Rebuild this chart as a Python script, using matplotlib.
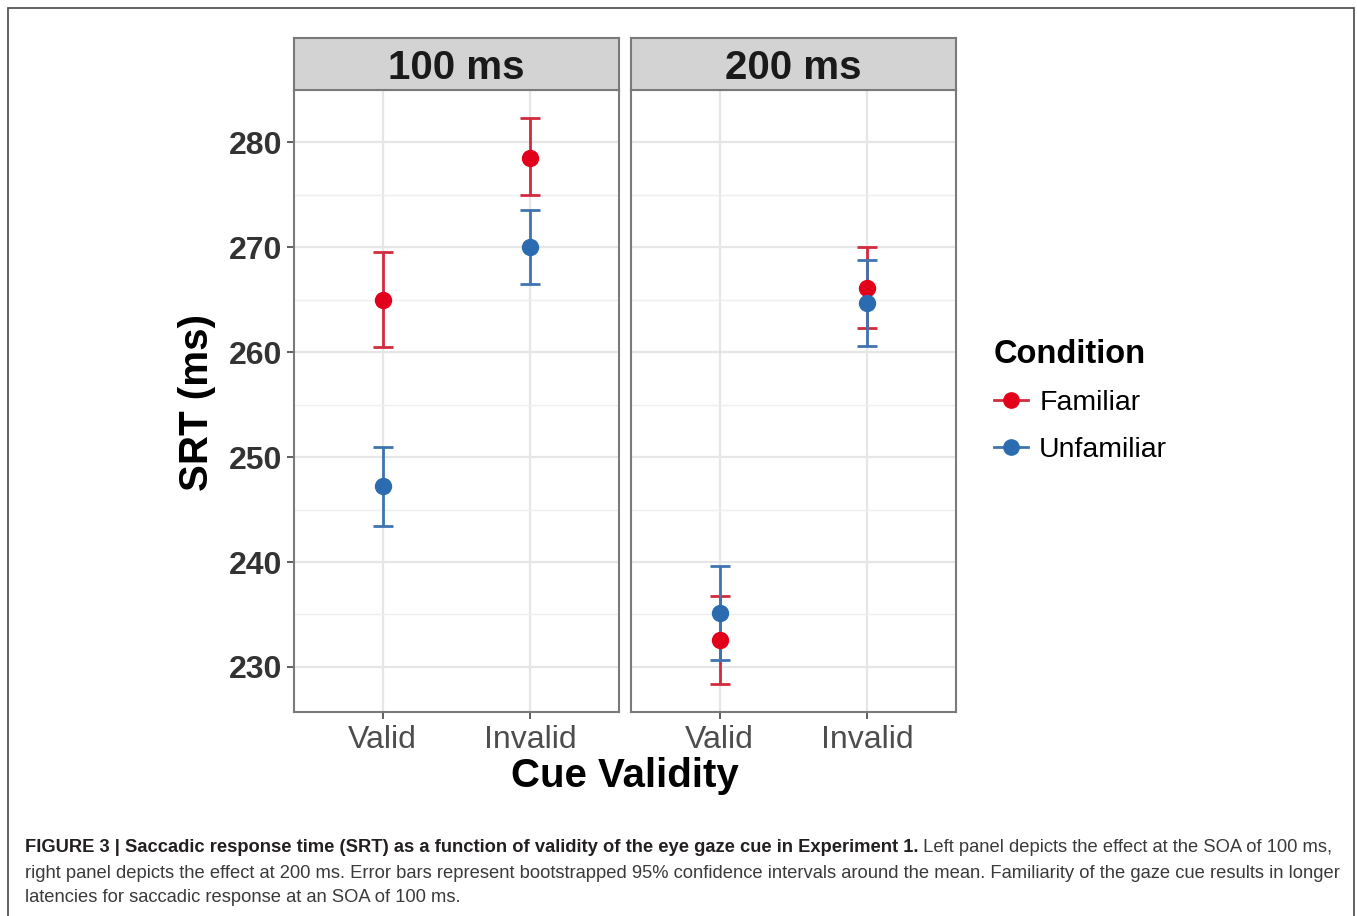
import matplotlib.pyplot as plt
from matplotlib.lines import Line2D
from matplotlib.patches import Rectangle

plt.rcParams['font.family'] = ['Liberation Sans', 'DejaVu Sans']

# data (SRT in ms, bootstrapped 95% CI)
soa_labels = ['100 ms', '200 ms']
cue_labels = ['Valid', 'Invalid']
conditions = ['Familiar', 'Unfamiliar']

familiar_mean = [[265.0, 278.5], [232.6, 266.1]]
familiar_low = [[260.5, 275.0], [228.4, 262.3]]
familiar_high = [[269.6, 282.3], [236.8, 270.0]]

unfamiliar_mean = [[247.2, 270.0], [235.1, 264.7]]
unfamiliar_low = [[243.4, 266.5], [230.7, 260.6]]
unfamiliar_high = [[251.0, 273.6], [239.6, 268.8]]

y_ticks = [230, 240, 250, 260, 270, 280]

point_colors = {'Familiar': '#E3001B', 'Unfamiliar': '#2B6CB0'}
bar_colors = {'Familiar': '#D22A3E', 'Unfamiliar': '#3F74B0'}

series = {
    'Familiar': (familiar_mean, familiar_low, familiar_high),
    'Unfamiliar': (unfamiliar_mean, unfamiliar_low, unfamiliar_high),
}

W, H = 1357, 916
fig = plt.figure(figsize=(W / 100, H / 100), dpi=100)

# outer frame around figure + caption
fig.add_artist(Rectangle((8 / W, -0.02), (1354 - 8) / W, 1 - 8 / H + 0.02,
                         transform=fig.transFigure, fill=False,
                         edgecolor='#555555', lw=1.3))

panel_left = [294, 631]
panel_w = 325
top, bottom = 90, 712
strip_top = 38

for p in range(2):
    ax = fig.add_axes([panel_left[p] / W, 1 - bottom / H, panel_w / W, (bottom - top) / H])
    x = [1, 2]
    for cond in conditions:
        mean, low, high = series[cond]
        m = mean[p]
        err = [[m[i] - low[p][i] for i in range(2)], [high[p][i] - m[i] for i in range(2)]]
        ax.errorbar(x, m, yerr=err, fmt='none', ecolor=bar_colors[cond],
                    elinewidth=2, capsize=7, capthick=2, zorder=3)
    for cond in conditions:
        ax.plot(x, series[cond][0][p], 'o', color=point_colors[cond],
                markersize=11.5, zorder=4)

    ax.set_xlim(0.4, 2.6)
    ax.set_ylim(225.7, 285.0)
    ax.set_xticks(x)
    ax.set_xticklabels(cue_labels, fontsize=23, color='#4D4D4D')
    ax.set_yticks(y_ticks)
    ax.set_yticks([235, 245, 255, 265, 275], minor=True)
    ax.grid(True, which='major', color='#E6E6E6', lw=1.6)
    ax.grid(True, which='minor', axis='y', color='#EFEFEF', lw=1.0)
    ax.set_axisbelow(True)
    ax.tick_params(axis='both', which='major', length=5, width=1.2, color='#444444')
    ax.tick_params(axis='y', which='minor', length=0)
    ax.tick_params(axis='x', pad=4)
    for s in ax.spines.values():
        s.set_color('#7A7A7A')
        s.set_linewidth(1.5)
    if p == 0:
        ax.set_yticklabels([str(t) for t in y_ticks], fontsize=23,
                           fontweight='bold', color='#333333')
    else:
        ax.tick_params(axis='y', labelleft=False, left=False)

    # facet strip
    sx = fig.add_axes([panel_left[p] / W, 1 - top / H, panel_w / W, (top - strip_top) / H])
    sx.set_facecolor('#D3D3D3')
    sx.set_xticks([])
    sx.set_yticks([])
    for s in sx.spines.values():
        s.set_color('#7A7A7A')
        s.set_linewidth(1.5)
    sx.text(0.5, 0.42, soa_labels[p], ha='center', va='center', fontsize=29,
            fontweight='bold', color='#1A1A1A', transform=sx.transAxes)

fig.text(625 / W, 1 - 776 / H, 'Cue Validity', ha='center', va='center',
         fontsize=29, fontweight='bold')
fig.text(197 / W, 1 - 402 / H, 'SRT (ms)', ha='center', va='center',
         rotation=90, fontsize=29, fontweight='bold')

handles = [Line2D([0], [0], color=bar_colors[c], lw=2, marker='o',
                  markerfacecolor=point_colors[c], markeredgecolor=point_colors[c],
                  markersize=11) for c in conditions]
fig.legend(handles, conditions, title='Condition', loc='upper left',
           bbox_to_anchor=(968 / W, 1 - 313 / H), frameon=False,
           fontsize=20.5, title_fontproperties={'weight': 'bold', 'size': 23.5},
           handlelength=1.2, handletextpad=0.4, labelspacing=0.72,
           alignment='left')

# caption
cap_size = 13.2
t1 = fig.text(25 / W, 1 - 848 / H,
              'FIGURE 3 | Saccadic response time (SRT) as a function of validity of the eye gaze cue in Experiment 1.',
              fontsize=cap_size, fontweight='bold', color='#231F20', va='center')
fig.add_artist(plt.matplotlib.text.Annotation(
    ' Left panel depicts the effect at the SOA of 100 ms,', xy=(1, 0.5),
    xycoords=t1, va='center', ha='left', fontsize=cap_size,
    color='#3A3A3A', annotation_clip=False))
fig.text(25 / W, 1 - 873 / H,
         'right panel depicts the effect at 200 ms. Error bars represent bootstrapped 95% confidence intervals around the mean. Familiarity of the gaze cue results in longer',
         fontsize=cap_size, color='#3A3A3A', va='center')
fig.text(25 / W, 1 - 897 / H, 'latencies for saccadic response at an SOA of 100 ms.',
         fontsize=cap_size, color='#3A3A3A', va='center')

fig.savefig('out.png', dpi=100)
